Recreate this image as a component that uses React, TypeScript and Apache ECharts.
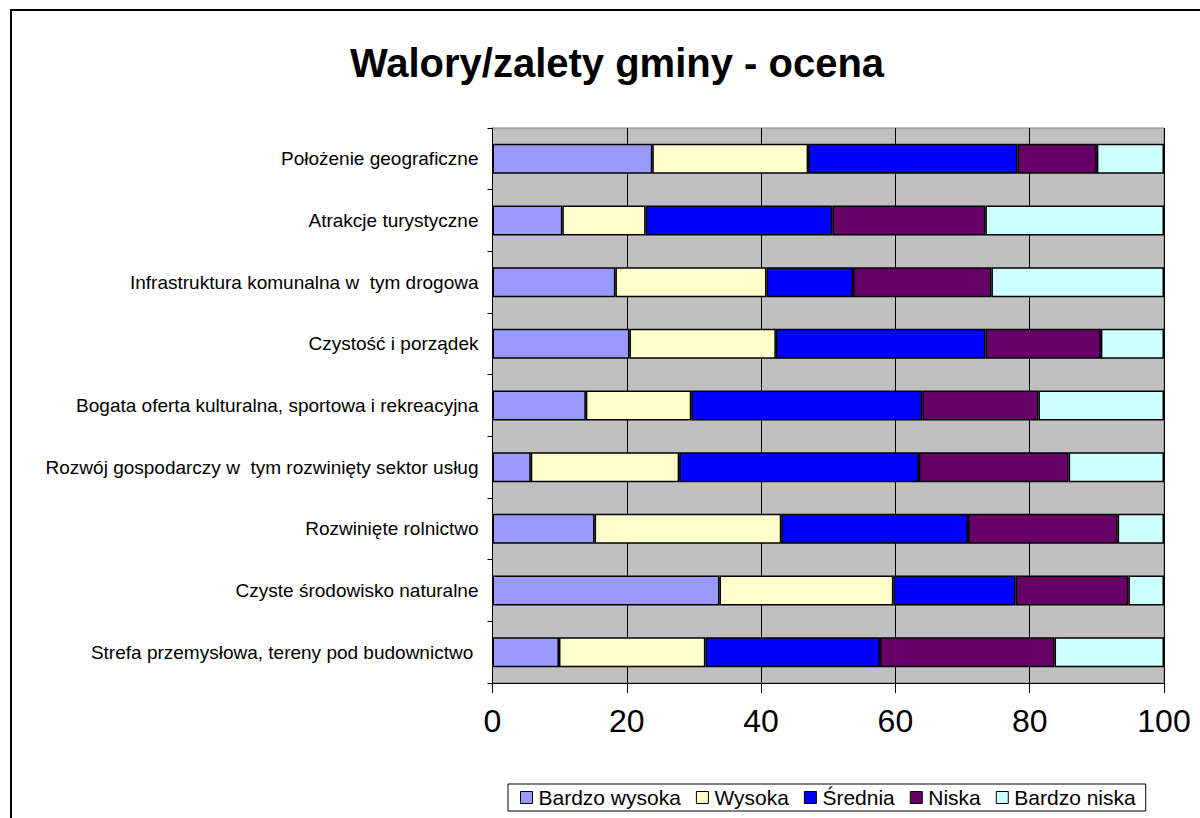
import React, { useEffect, useRef } from "react";
import * as echarts from "echarts";

const categories = [
  "Położenie geograficzne",
  "Atrakcje turystyczne",
  "Infrastruktura komunalna w  tym drogowa",
  "Czystość i porządek",
  "Bogata oferta kulturalna, sportowa i rekreacyjna",
  "Rozwój gospodarczy w  tym rozwinięty sektor usług",
  "Rozwinięte rolnictwo",
  "Czyste środowisko naturalne",
  "Strefa przemysłowa, tereny pod budownictwo ",
];

const seriesNames = ["Bardzo wysoka", "Wysoka", "Średnia", "Niska", "Bardzo niska"];

const bardzoWysoka = [23.8, 10.4, 18.3, 20.4, 13.9, 5.7, 15.2, 33.8, 9.9];
const wysoka = [23.2, 12.4, 22.5, 21.8, 15.7, 22.1, 27.8, 25.9, 21.8];
const srednia = [31.2, 27.8, 12.9, 31.2, 34.4, 35.7, 27.8, 18.2, 26.0];
const niska = [11.8, 22.8, 20.6, 17.2, 17.3, 22.3, 22.3, 16.8, 26.0];
const bardzoNiska = [10.0, 26.6, 25.7, 9.4, 18.7, 14.2, 6.9, 5.3, 16.3];

const xTicks = [0, 20, 40, 60, 80, 100];

const colors = ["#9999FF", "#FFFFCC", "#0000FF", "#660066", "#CCFFFF"];

export default function App() {
  const ref = useRef<HTMLDivElement>(null);
  useEffect(() => {
    if (!ref.current) return;
    const chart = echarts.init(ref.current, null, { renderer: "svg" });
    const values = [bardzoWysoka, wysoka, srednia, niska, bardzoNiska];
    const font = "'Liberation Sans', Arial, sans-serif";
    chart.setOption({
      animation: false,
      backgroundColor: "#ffffff",
      textStyle: { fontFamily: font },
      title: {
        text: "Walory/zalety gminy - ocena",
        left: 612,
        textAlign: "center",
        top: 38,
        textStyle: { fontFamily: font, fontWeight: "bold", fontSize: 40, color: "#000" },
      },
      graphic: [
        {
          type: "rect",
          shape: { x: 11, y: 10, width: 1200, height: 820 },
          style: { fill: "none", stroke: "#000", lineWidth: 2 },
          silent: true,
        },
      ],
      legend: {
        left: 508,
        top: 784,
        padding: [3, 10, 3, 12],
        itemGap: 15,
        itemWidth: 12,
        itemHeight: 12,
        borderColor: "#000",
        borderWidth: 1,
        data: seriesNames,
        icon: "rect",
        itemStyle: { borderColor: "#000", borderWidth: 1 },
        textStyle: { fontFamily: font, fontSize: 21, color: "#000", padding: [0, 0, 0, 1] },
      },
      grid: {
        left: 492.5,
        right: 36,
        top: 128,
        bottom: 135,
        show: true,
        backgroundColor: "#C0C0C0",
        borderColor: "#808080",
        borderWidth: 1,
        containLabel: false,
      },
      xAxis: {
        type: "value",
        min: xTicks[0],
        max: xTicks[xTicks.length - 1],
        interval: xTicks[1] - xTicks[0],
        axisLine: { show: true, lineStyle: { color: "#000", width: 1 } },
        axisTick: { show: true, length: 10, lineStyle: { color: "#000" } },
        splitLine: { show: true, lineStyle: { color: "#000", width: 1 } },
        axisLabel: { fontFamily: font, fontSize: 32, color: "#000", margin: 22 },
      },
      yAxis: {
        type: "category",
        inverse: true,
        data: categories,
        axisLine: { show: true, lineStyle: { color: "#000", width: 1 } },
        axisTick: { show: true, length: 5, interval: 0, lineStyle: { color: "#000" } },
        axisLabel: { fontFamily: font, fontSize: 19, color: "#000", margin: 14, interval: 0 },
        splitLine: { show: false },
      },
      series: seriesNames.map((name, i) => ({
        name,
        type: "bar",
        stack: "total",
        barWidth: 30,
        data: values[i],
        itemStyle: { color: colors[i], borderColor: "#000", borderWidth: 1.5 },
      })),
    });
    return () => chart.dispose();
  }, []);
  return (
    <div
      ref={ref}
      style={{ position: "fixed", left: 0, top: 0, width: 1200, height: 818 }}
    />
  );
}
